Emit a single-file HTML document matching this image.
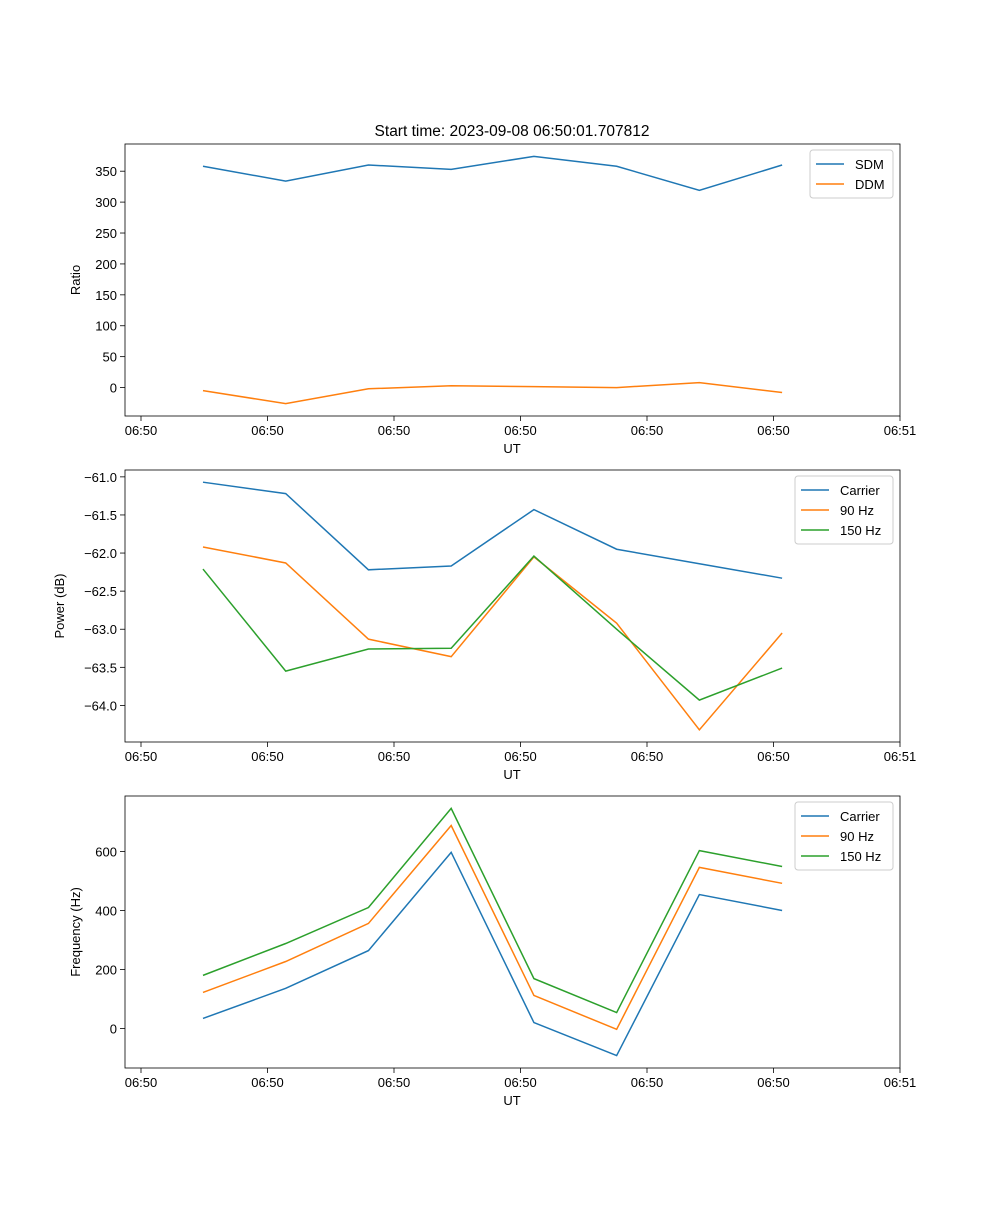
<!DOCTYPE html>
<html><head><meta charset="utf-8"><style>
body{margin:0;background:#fff}
svg text{font-family:"Liberation Sans","DejaVu Sans",sans-serif;font-size:13px;fill:#000}
</style></head><body>
<svg id="fig" width="1000" height="1200" xmlns="http://www.w3.org/2000/svg"></svg>
<script>
const times=[0.49,1.144,1.798,2.452,3.106,3.76,4.414,5.068];
const xTickVals=[0,1,2,3,4,5,6];
const xTickLabels=["06:50","06:50","06:50","06:50","06:50","06:50","06:51"];
const sdm=[358,334,360,353,374,358,319,360];
const ddm=[-5,-26,-2,3,1.5,0,8,-8];
const pwrCarrier=[-61.07,-61.22,-62.22,-62.17,-61.43,-61.95,-62.14,-62.33];
const pwr90=[-61.92,-62.13,-63.13,-63.36,-62.05,-62.92,-64.32,-63.05];
const pwr150=[-62.21,-63.55,-63.26,-63.25,-62.04,-63.0,-63.93,-63.51];
const frqCarrier=[34,136,264,597,20,-92,454,400];
const frq90=[122,227,356,688,112,-3,546,492];
const frq150=[180,288,410,746,169,54,603,549];
const ratioTicks=[0,50,100,150,200,250,300,350];
const powerTicks=[-64.0,-63.5,-63.0,-62.5,-62.0,-61.5,-61.0];
const freqTicks=[0,200,400,600];

const svg=document.getElementById('fig');
const NS='http://www.w3.org/2000/svg';
function mk(tag,attrs,parent){const e=document.createElementNS(NS,tag);for(const k in attrs)e.setAttribute(k,attrs[k]);(parent||svg).appendChild(e);return e;}
const L=125,R=900;
function xScale(t){return 141+t*126.5;}
function panel(top,bot,ymin,ymax,yTicks,fmt,ylabel,series,legend,name){
  const g=mk('g',{});
  
  
  const y=v=>bot-(v-ymin)/(ymax-ymin)*(bot-top);
  series.forEach(s=>{
    const p=mk('polyline',{points:s.data.map((v,i)=>xScale(times[i])+','+y(v)).join(' '),fill:'none',stroke:s.color,'stroke-width':1.5},g);
    
    
  });
  const fr=mk('rect',{x:L,y:top,width:R-L,height:bot-top,fill:'none',stroke:'#000','stroke-width':0.8},g);
  
  
  xTickVals.forEach((t,i)=>{
    const x=xScale(t);
    mk('line',{x1:x,x2:x,y1:bot,y2:bot+5,stroke:'#000','stroke-width':0.8},g);
    const tx=mk('text',{x:x,y:bot+19,'text-anchor':'middle'},g);tx.textContent=xTickLabels[i];
    
    
  });
  yTicks.forEach(v=>{
    const yy=y(v);
    mk('line',{x1:L-5,x2:L,y1:yy,y2:yy,stroke:'#000','stroke-width':0.8},g);
    const tx=mk('text',{x:L-8,y:yy+5,'text-anchor':'end'},g);tx.textContent=fmt(v);
    
    
  });
  const xl=mk('text',{x:512,y:bot+37,'text-anchor':'middle'},g);xl.textContent='UT';
  
  
  const cy=(top+bot)/2;
  const yl=mk('text',{x:0,y:0,'text-anchor':'middle',transform:`translate(${legend.yx},${cy}) rotate(-90)`},g);yl.textContent=ylabel;
  
  
  const lg=mk('g',{},g);
  
  
  const lx=legend.x,ly=top+6,lh=20*series.length+8;
  mk('rect',{x:lx,y:ly,width:R-7-lx,height:lh,rx:3,fill:'#fff','fill-opacity':0.8,stroke:'#ccc'},lg);
  series.forEach((s,i)=>{
    const yy=ly+14+i*20;
    mk('line',{x1:lx+6,x2:lx+34,y1:yy,y2:yy,stroke:s.color,'stroke-width':1.5},lg);
    const t=mk('text',{x:lx+45,y:yy+5},lg);t.textContent=s.label;
    
    
  });
}
const title=mk('text',{x:512,y:136,'text-anchor':'middle',style:'font-size:15.5px'});
title.textContent='Start time: 2023-09-08 06:50:01.707812';


panel(144,416,-46,394,ratioTicks,v=>String(v),'Ratio',
 [{id:'sdm',label:'SDM',data:sdm,color:'#1f77b4'},{id:'ddm',label:'DDM',data:ddm,color:'#ff7f0e'}],
 {x:810,yx:80},'ratio-panel');
panel(470,742,-64.48,-60.91,powerTicks,v=>'\u2212'+Math.abs(v).toFixed(1),'Power (dB)',
 [{id:'carrier',label:'Carrier',data:pwrCarrier,color:'#1f77b4'},{id:'hz90',label:'90 Hz',data:pwr90,color:'#ff7f0e'},{id:'hz150',label:'150 Hz',data:pwr150,color:'#2ca02c'}],
 {x:795,yx:64},'power-panel');
panel(796,1068,-134,788,freqTicks,v=>String(v),'Frequency (Hz)',
 [{id:'carrier',label:'Carrier',data:frqCarrier,color:'#1f77b4'},{id:'hz90',label:'90 Hz',data:frq90,color:'#ff7f0e'},{id:'hz150',label:'150 Hz',data:frq150,color:'#2ca02c'}],
 {x:795,yx:80},'frequency-panel');
</script>
</body></html>
